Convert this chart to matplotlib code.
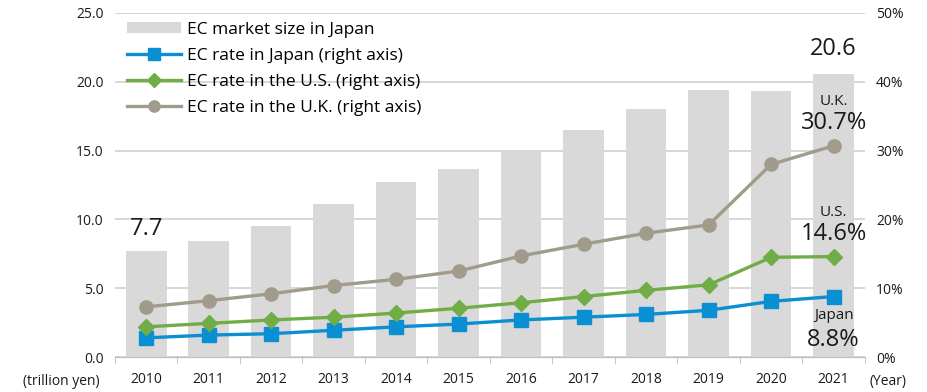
import numpy as np
import matplotlib.pyplot as plt

plt.rcParams['font.family'] = ['Open Sans', 'DejaVu Sans']

years = ['2010', '2011', '2012', '2013', '2014', '2015',
         '2016', '2017', '2018', '2019', '2020', '2021']
market_size = [7.7, 8.4, 9.5, 11.1, 12.7, 13.7, 15.0, 16.5, 18.0, 19.4, 19.3, 20.6]
rate_japan = [2.8, 3.2, 3.4, 3.9, 4.4, 4.8, 5.4, 5.8, 6.2, 6.8, 8.1, 8.8]
rate_us = [4.4, 4.9, 5.4, 5.8, 6.4, 7.1, 7.9, 8.8, 9.7, 10.5, 14.5, 14.6]
rate_uk = [7.3, 8.2, 9.2, 10.4, 11.3, 12.5, 14.7, 16.4, 18.0, 19.2, 28.0, 30.7]

bar_color = '#d9d9d9'
jp_color = '#0a8fd2'
us_color = '#70ad47'
uk_color = '#a19b8b'
text_color = '#1a1a1a'

x = np.arange(len(years))

fig = plt.figure(figsize=(9.27, 3.92), dpi=100)
ax = fig.add_axes([0.124, 0.089, 0.809, 0.878])
ax2 = ax.twinx()

bars = ax.bar(x, market_size, width=0.65, color=bar_color, zorder=2,
              label='EC market size in Japan')

l1, = ax2.plot(x, rate_japan, color=jp_color, lw=2.4, marker='s', ms=9.5,
               label='EC rate in Japan (right axis)')
l2, = ax2.plot(x, rate_us, color=us_color, lw=2.4, marker='D', ms=8,
               label='EC rate in the U.S. (right axis)')
l3, = ax2.plot(x, rate_uk, color=uk_color, lw=2.4, marker='o', ms=9.5,
               label='EC rate in the U.K. (right axis)')

ax.set_xlim(-0.5, len(years) - 0.5)
ax.set_ylim(0, 25)
ax2.set_ylim(0, 50)
ax.set_yticks(np.arange(0, 25.1, 5))
ax.set_yticklabels([f'{v:.1f}' for v in np.arange(0, 25.1, 5)])
ax2.set_yticks(np.arange(0, 51, 10))
ax2.set_yticklabels([f'{v}%' for v in range(0, 51, 10)])

ax.yaxis.grid(True, color='#d0d0d0', lw=1.2, zorder=0)
ax.set_axisbelow(True)

for a in (ax, ax2):
    for s in ('left', 'right', 'top'):
        a.spines[s].set_visible(False)
    a.spines['bottom'].set_color('#bfbfbf')
    a.tick_params(axis='y', length=0, labelsize=10, labelcolor=text_color, pad=8)

ax.set_xticks(x)
ax.set_xticklabels(years)
ax.tick_params(axis='x', length=0, labelsize=10, labelcolor=text_color, pad=11)
ax.set_xticks(np.arange(-0.5, len(years), 1), minor=True)
ax.tick_params(axis='x', which='minor', length=5, color='#bfbfbf', direction='out')

ax.text(-0.02, -0.07, '(trillion yen)', transform=ax.transAxes, ha='right',
        va='center', fontsize=10, color=text_color)
ax.text(1.006, -0.07, '(Year)', transform=ax.transAxes, ha='left',
        va='center', fontsize=10, color=text_color)

# value callouts
ax.text(x[0], market_size[0] + 0.7, f'{market_size[0]}', ha='center',
        va='bottom', fontsize=17, color=text_color)
ax.text(x[-1], market_size[-1] + 0.9, f'{market_size[-1]}', ha='center',
        va='bottom', fontsize=17, color=text_color)
ax2.text(x[-1], rate_uk[-1] + 1.6, f'{rate_uk[-1]}%', ha='center',
         va='bottom', fontsize=17, color=text_color)
ax2.text(x[-1], rate_uk[-1] + 5.3, 'U.K.', ha='center', va='bottom',
         fontsize=11, color=text_color)
ax2.text(x[-1], rate_us[-1] + 1.6, f'{rate_us[-1]}%', ha='center',
         va='bottom', fontsize=17, color=text_color)
ax2.text(x[-1], rate_us[-1] + 5.3, 'U.S.', ha='center', va='bottom',
         fontsize=11, color=text_color)
ax2.text(x[-1], rate_japan[-1] - 1.6, 'Japan', ha='center', va='top',
         fontsize=11, color=text_color)
ax2.text(x[-1], rate_japan[-1] - 4.6, f'{rate_japan[-1]}%', ha='center',
         va='top', fontsize=17, color=text_color)

ax2.legend([bars, l1, l2, l3], [h.get_label() for h in (bars, l1, l2, l3)],
           loc='upper left', bbox_to_anchor=(0.005, 1.0), frameon=False,
           fontsize=12.5, handlelength=3.1, handleheight=0.6, labelspacing=0.58,
           borderaxespad=0.1, handletextpad=0.35, markerscale=0.85)

fig.savefig('out.png', dpi=100)
